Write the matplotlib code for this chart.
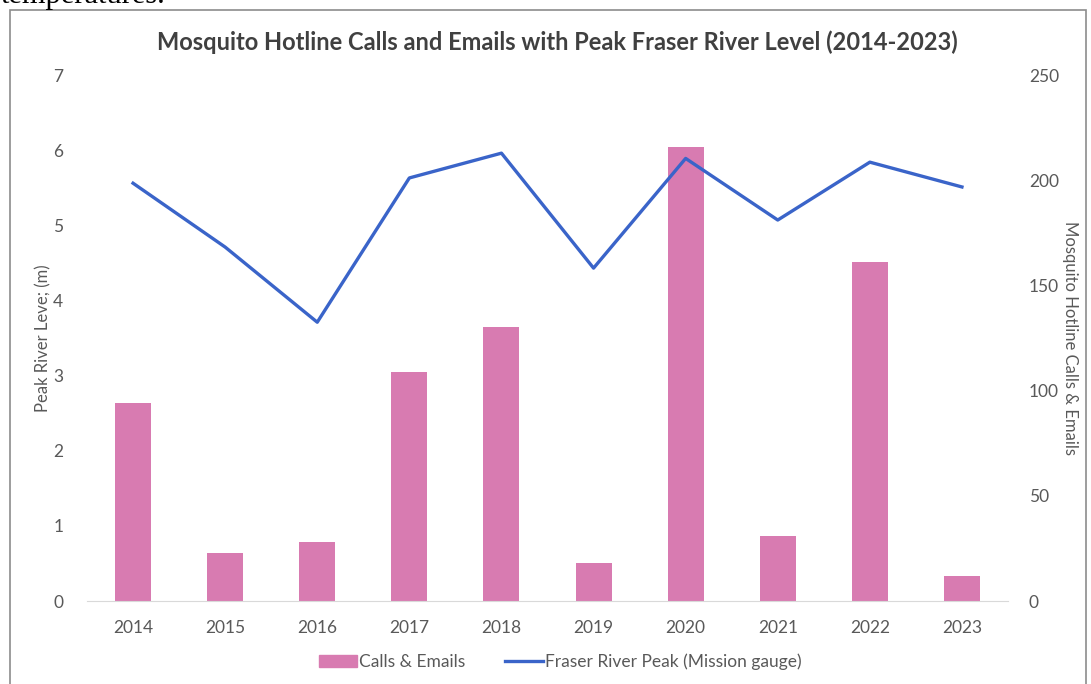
import matplotlib.pyplot as plt
from matplotlib.patches import Rectangle
from matplotlib.lines import Line2D

years = ["2014", "2015", "2016", "2017", "2018", "2019", "2020", "2021", "2022", "2023"]
calls = [94, 23, 28, 109, 130, 18, 216, 31, 161, 12]
river_peak = [5.56, 4.71, 3.71, 5.63, 5.96, 4.43, 5.89, 5.07, 5.84, 5.51]

bar_color = "#D87BB1"
line_color = "#3A64C9"
text_color = "#595959"

plt.rcParams["font.family"] = ["Lato", "DejaVu Sans"]

W, H = 1091, 684
fig = plt.figure(figsize=(W / 100, H / 100), dpi=100)

# chart frame like the pasted office chart
fig.patches.append(Rectangle((10 / W, -0.1), 1076 / W, (H - 10) / H + 0.1,
                             transform=fig.transFigure, fill=False,
                             edgecolor="#8c8c8c", linewidth=1.2))
fig.text(1 / W, 1 - 3 / H, "temperatures.", family="Liberation Serif",
         fontsize=22, va="baseline", ha="left", color="black")

ax = fig.add_axes([87 / W, (H - 601) / H, (1008 - 87) / W, (601 - 75) / H])
ax2 = ax.twinx()

x = list(range(len(years)))
ax2.bar(x, calls, width=0.39, color=bar_color, zorder=1)
ax.plot(x, river_peak, color=line_color, linewidth=2.4, zorder=3)

# line on top of bars
ax.set_zorder(ax2.get_zorder() + 1)
ax.patch.set_visible(False)

ax.set_xlim(-0.5, len(years) - 0.5)
ax.set_ylim(0, 7)
ax.set_yticks(range(0, 8))
ax2.set_ylim(0, 250)
ax2.set_yticks(range(0, 251, 50))
ax.set_xticks(x)
ax.set_xticklabels(years)

for a in (ax, ax2):
    for s in a.spines.values():
        s.set_visible(False)
    a.tick_params(length=0, colors=text_color, labelsize=12.5)
ax.spines["bottom"].set_visible(True)
ax.spines["bottom"].set_color("#d9d9d9")
ax.tick_params(axis="y", pad=17)
ax2.tick_params(axis="y", pad=15)
ax.tick_params(axis="x", pad=14)

ax.set_ylabel("Peak River Leve; (m)", color=text_color, fontsize=12,
              va="center")
ax.yaxis.set_label_coords(-44 / 921, 0.5)
ax2.set_ylabel("Mosquito Hotline Calls & Emails", color=text_color, fontsize=12,
               rotation=270, va="center")
ax2.yaxis.set_label_coords(1 + 62 / 921, 0.5)

fig.text(557 / W, 1 - 42 / H,
         "Mosquito Hotline Calls and Emails with Peak Fraser River Level (2014-2023)",
         ha="center", va="center", fontsize=17, fontweight="bold", color="#404040")

handles = [Rectangle((0, 0), 1, 1, color=bar_color),
           Line2D([0], [0], color=line_color, linewidth=2.4)]
fig.legend(handles, ["Calls & Emails", "Fraser River Peak (Mission gauge)"],
           loc="center", bbox_to_anchor=(560 / W, 1 - 662 / H), ncol=2,
           frameon=False, fontsize=12.5, labelcolor=text_color,
           handlelength=2.2, handletextpad=0.1, columnspacing=2.3)

fig.savefig("out.png", dpi=100)
